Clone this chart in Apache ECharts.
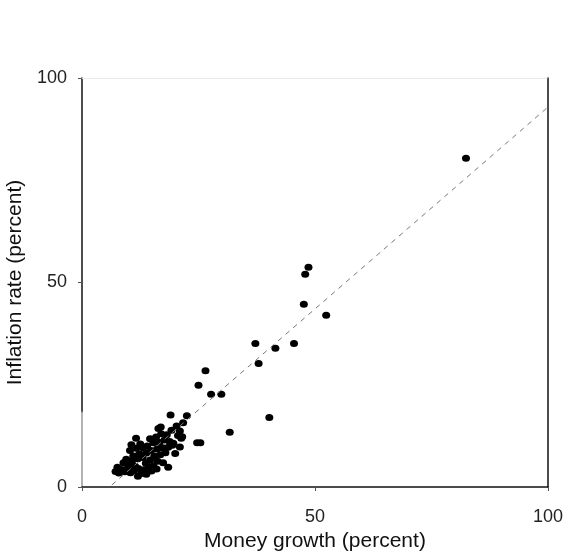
<!DOCTYPE html>
<html>
<head>
<meta charset="utf-8">
<script src="https://cdn.jsdelivr.net/npm/echarts@6/dist/echarts.min.js"></script>
<style>
html,body{margin:0;padding:0;background:#fff;}
#main{width:565px;height:552px;}
</style>
</head>
<body>
<div id="main"></div>
<script>
// 货币增长 vs 通胀率 (百分比)
var xTicks = [0, 50, 100];
var yTicks = [0, 50, 100];

// 低值密集区
var clusterPts = [
    [7.2,3.8],[7.9,3.4],[8.5,4.3],[9.2,3.7],[7.6,4.8],[9.8,4.6],[10.4,3.5],[11.1,4.0],
    [10.0,5.6],[10.7,6.3],[11.4,5.1],[12.1,4.5],[12.7,3.3],[13.3,4.2],[12.0,6.9],[11.0,7.6],
    [10.3,8.9],[10.6,10.3],[11.6,9.5],[12.3,8.1],[13.0,7.2],[13.7,5.8],[14.3,4.8],[14.9,3.9],
    [15.3,5.2],[14.6,6.6],[13.8,8.3],[13.1,9.6],[12.5,10.5],[14.0,10.0],[14.8,8.9],[15.5,7.6],
    [16.2,6.3],[16.8,7.9],[16.1,9.3],[15.3,10.8],[14.6,11.8],[15.9,12.2],[16.6,10.9],[17.3,9.6],
    [17.9,8.4],[18.5,9.7],[17.7,11.5],[17.0,13.0],[16.4,14.3],[18.2,12.8],[18.8,11.1],[19.4,10.2],
    [18.5,4.8],[20.0,8.2],[21.0,9.8],[21.3,11.9],[20.6,12.6],[19.2,13.9],[20.3,14.9],[17.4,5.9],
    [12.0,2.6],[13.8,3.1],[16.0,4.4],[11.6,11.9],[9.5,6.8],[8.9,5.9],[16.9,14.7]
];
// 其余散点
var otherPts = [
    [19.0,17.6],[21.7,15.7],[21.0,13.7],[21.5,12.3],[24.7,10.8],[19.6,10.7],[22.5,17.4],
    [31.7,13.4],[25.4,10.8],[25.0,24.9],[27.7,22.7],[29.9,22.7],[26.5,28.4],[40.2,17.0],
    [37.9,30.2],[37.2,35.1],[45.5,35.1],[41.5,33.9],[47.6,44.7],[52.4,42.0],[47.9,52.0],
    [48.6,53.7],[82.4,80.4]
];
// 拟合虚线端点
var fitLine = [[6.4,0.5],[100,92.9]];

var font = 'Liberation Sans, Arial, sans-serif';
var chart = echarts.init(document.getElementById('main'));
// 左轴下段颜色较浅
var leftAxisColor = new echarts.graphic.LinearGradient(0, 0, 0, 1, [
    {offset: 0, color: '#111'}, {offset: 0.81, color: '#111'},
    {offset: 0.815, color: '#999'}, {offset: 1, color: '#999'}
]);
chart.setOption({
    animation: false,
    grid: {left: 82, right: 17, top: 78, bottom: 65, outerBoundsMode: 'none', containLabel: false},
    xAxis: [{
        type: 'value', min: 0, max: 100, interval: 50,
        name: 'Money growth (percent)', nameLocation: 'middle', nameGap: 44,
        nameTextStyle: {fontFamily: font, fontSize: 21, color: '#111'},
        axisLine: {show: true, onZero: false, lineStyle: {color: '#111', width: 1.5}},
        axisTick: {show: true, length: 4, lineStyle: {color: '#555'}},
        axisLabel: {fontFamily: font, fontSize: 18, color: '#222', margin: 21,
            formatter: function(v){ return xTicks.indexOf(v) >= 0 ? v : ''; }},
        splitLine: {show: false}
    }, {
        type: 'value', position: 'top', min: 0, max: 100,
        axisLine: {show: true, onZero: false, lineStyle: {color: '#e4e4e4', type: 'dotted', width: 1}},
        axisTick: {show: false}, axisLabel: {show: false}, splitLine: {show: false}
    }],
    yAxis: [{
        type: 'value', min: 0, max: 100, interval: 50,
        name: 'Inflation rate (percent)', nameLocation: 'middle', nameGap: 51,
        nameTextStyle: {fontFamily: font, fontSize: 21, color: '#111'},
        axisLine: {show: true, onZero: false, lineStyle: {color: leftAxisColor, width: 1.5}},
        axisTick: {show: true, length: 4, lineStyle: {color: '#555'}},
        axisLabel: {fontFamily: font, fontSize: 18, color: '#222', margin: 15,
            formatter: function(v){ return yTicks.indexOf(v) >= 0 ? v : ''; }},
        splitLine: {show: false}
    }, {
        type: 'value', position: 'right', min: 0, max: 100,
        axisLine: {show: true, onZero: false, lineStyle: {color: '#111', width: 1.5}},
        axisTick: {show: false}, axisLabel: {show: false}, splitLine: {show: false}
    }],
    series: [{
        type: 'line', data: fitLine, symbol: 'none', silent: true,
        lineStyle: {color: '#777', width: 1, type: [5, 5]}
    }, {
        type: 'scatter', data: clusterPts, symbol: 'circle', symbolSize: [8, 7],
        itemStyle: {color: '#000', opacity: 1}
    }, {
        type: 'scatter', data: otherPts, symbol: 'circle', symbolSize: [8, 7],
        itemStyle: {color: '#000', opacity: 1}
    }]
});
</script>
</body>
</html>
